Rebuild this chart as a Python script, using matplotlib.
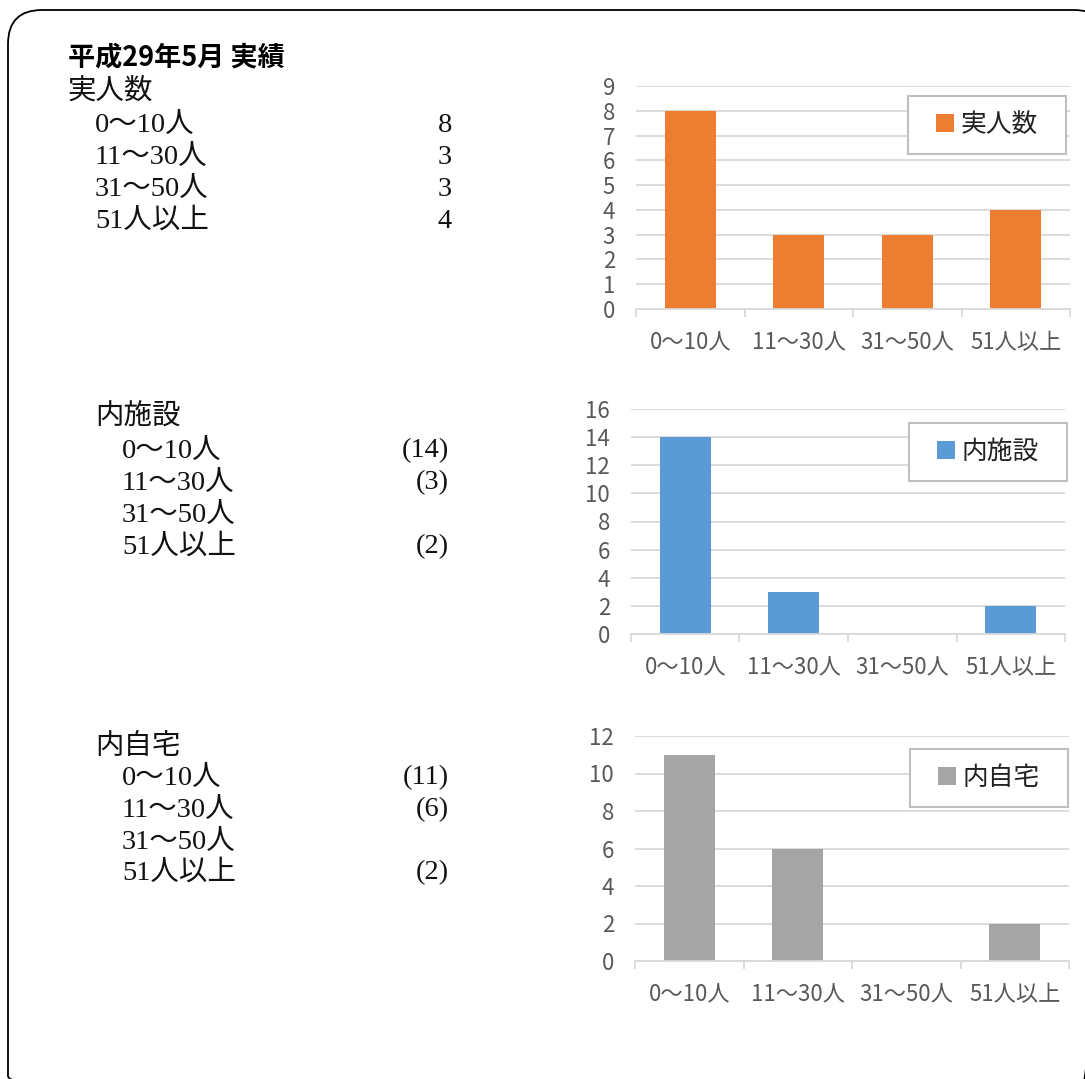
import matplotlib
matplotlib.use("Agg")
import matplotlib.pyplot as plt
from matplotlib.patches import FancyBboxPatch
from matplotlib.path import Path

# データ
categories = ["0～10人", "11～30人", "31～50人", "51人以上"]
jitsu_ninzu = [8, 3, 3, 4]
uchi_shisetsu = [14, 3, 0, 2]
uchi_jitaku = [11, 6, 0, 2]
series_names = ["実人数", "内施設", "内自宅"]
series_colors = ["#ED7D31", "#5B9BD5", "#A5A5A5"]
y_max = [9, 16, 12]
y_step = [1, 2, 2]
title_text = "平成29年5月 実績"

W, H = 1085, 1079
fig = plt.figure(figsize=(W / 100, H / 100), dpi=100)

# 背景 (ピクセル座標)
bg = fig.add_axes([0, 0, 1, 1])
bg.set_xlim(0, W)
bg.set_ylim(H, 0)
bg.axis("off")
bg.add_patch(FancyBboxPatch((8, 10), 1100, 1100,
                            boxstyle="round,pad=0,rounding_size=34",
                            fill=False, ec="black", lw=1.3))

cjk = "Noto Sans CJK JP"
serif_list = ["Liberation Serif", cjk]

bg.text(68, 57, title_text, family=cjk, fontweight="bold", fontsize=19.5,
        va="center", ha="left", color="black")

# 左側のテキストブロック
blocks = [
    dict(name_x=68, item_x=95, val_x=452, name_y=91, item_y=[125, 157, 189, 221],
         values=jitsu_ninzu, paren=False),
    dict(name_x=95, item_x=122, val_x=449, name_y=418, item_y=[451, 483, 515, 547],
         values=uchi_shisetsu, paren=True),
    dict(name_x=95, item_x=122, val_x=449, name_y=747, item_y=[778, 810, 842, 873],
         values=uchi_jitaku, paren=True),
]
for name, b in zip(series_names, blocks):
    bg.text(b["name_x"], b["name_y"], name, family=serif_list, fontsize=20.5,
            va="center", ha="left", color="#111111")
    for cat, v, yy in zip(categories, b["values"], b["item_y"]):
        bg.text(b["item_x"], yy, cat, family=serif_list, fontsize=20.5,
                va="center", ha="left", color="#111111")
        if b["paren"]:
            s = f"({v})" if v else ""
        else:
            s = str(v)
        bg.text(b["val_x"], yy, s, family=serif_list, fontsize=20.5,
                va="center", ha="right", color="#111111")


EX = 12  # 凡例枠の横方向の余白 (px)


def wide_box(x0, y0, width, height, mutation_size):
    return Path([(x0 - EX, y0), (x0 + width + EX, y0), (x0 + width + EX, y0 + height),
                 (x0 - EX, y0 + height), (x0 - EX, y0)],
                [Path.MOVETO, Path.LINETO, Path.LINETO, Path.LINETO, Path.CLOSEPOLY])


# グラフ (左, 右, 上, 下) ピクセル
chart_boxes = [(636, 1070, 86, 309), (631, 1065, 409, 634), (635, 1069, 736, 961)]
legend_corner = [(1066, 96), (1067, 423), (1068, 749)]
all_values = [jitsu_ninzu, uchi_shisetsu, uchi_jitaku]

for i in range(3):
    l, r, t, btm = chart_boxes[i]
    ax = fig.add_axes([l / W, 1 - btm / H, (r - l) / W, (btm - t) / H])
    xs = list(range(len(categories)))
    ax.bar(xs, all_values[i], width=0.47, color=series_colors[i], edgecolor="none",
           zorder=3, label=series_names[i])
    ax.set_xlim(-0.5, len(categories) - 0.5)
    ax.set_ylim(0, y_max[i])
    ax.set_yticks(range(0, y_max[i] + 1, y_step[i]))
    ax.set_xticks(xs)
    ax.set_xticklabels(categories)
    ax.set_xticks([x - 0.5 for x in range(len(categories) + 1)], minor=True)
    ax.grid(axis="y", color="#D9D9D9", lw=1.3, zorder=0)
    for side in ["top", "right", "left"]:
        ax.spines[side].set_visible(False)
    ax.spines["bottom"].set_color("#D9D9D9")
    ax.spines["bottom"].set_linewidth(1.3)
    ax.spines["bottom"].set_zorder(4)
    ax.tick_params(axis="y", length=0, pad=15, labelsize=16, labelcolor="#595959")
    ax.tick_params(axis="x", which="major", length=0, pad=16, labelsize=16,
                   labelcolor="#595959")
    ax.tick_params(axis="x", which="minor", length=6, width=1.3, color="#D9D9D9",
                   direction="out")
    for lab in ax.get_xticklabels() + ax.get_yticklabels():
        lab.set_family(cjk)
    ax.set_facecolor("none")

    lx, ly = legend_corner[i]
    leg = ax.legend(loc="upper right", bbox_to_anchor=((lx - EX) / W, 1 - ly / H),
                    bbox_transform=fig.transFigure, borderaxespad=0, borderpad=0.62,
                    handlelength=0.72, handleheight=0.72, handletextpad=0.25,
                    frameon=True, fancybox=False, prop={"family": cjk, "size": 18.5})
    fr = leg.get_frame()
    fr.set_boxstyle(wide_box)
    fr.set_edgecolor("#BFBFBF")
    fr.set_linewidth(1.5)
    fr.set_alpha(1)
    for txt in leg.get_texts():
        txt.set_color("#222222")

fig.savefig("out.png", dpi=100)
